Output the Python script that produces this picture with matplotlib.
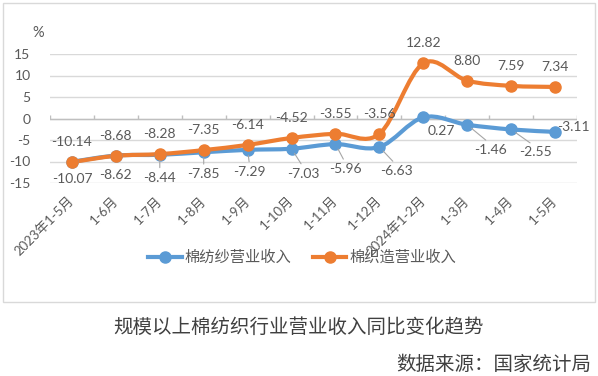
import numpy as np
import matplotlib
matplotlib.use("Agg")
import matplotlib.pyplot as plt
from matplotlib.path import Path
from matplotlib.patches import PathPatch, Rectangle
from matplotlib.lines import Line2D

plt.rcParams['font.family'] = ['Lato', 'Noto Sans CJK SC', 'DejaVu Sans']

categories = ["2023年1-5月", "1-6月", "1-7月", "1-8月", "1-9月", "1-10月", "1-11月",
              "1-12月", "2024年1-2月", "1-3月", "1-4月", "1-5月"]
yarn = [-10.07, -8.62, -8.44, -7.85, -7.29, -7.03, -5.96, -6.63, 0.27, -1.46, -2.55, -3.11]
weave = [-10.14, -8.68, -8.28, -7.35, -6.14, -4.52, -3.55, -3.56, 12.82, 8.80, 7.59, 7.34]
yarn_name = "棉纺纱营业收入"
weave_name = "棉织造营业收入"
yticks = [-15, -10, -5, 0, 5, 10, 15]
title = "规模以上棉纺织行业营业收入同比变化趋势"
source = "数据来源：国家统计局"

BLUE = "#5B9BD5"
ORANGE = "#ED7D31"
TXT = "#595959"

W, H = 598, 376
fig = plt.figure(figsize=(W / 100, H / 100), dpi=100)
ax = fig.add_axes([50 / W, 1 - 183 / H, 527 / W, 129 / H])

# outer chart frame
fig.patches.append(Rectangle((3 / W, 1 - 302 / H), 592 / W, 299 / H, transform=fig.transFigure,
                             fill=False, edgecolor="#D9D9D9", lw=1))

x = np.arange(len(categories))


def smooth_path(xs, ys):
    pts = list(zip(xs, ys))
    verts = [pts[0]]
    codes = [Path.MOVETO]
    n = len(pts)
    for i in range(n - 1):
        p0 = pts[i - 1] if i > 0 else pts[i]
        p1 = pts[i]
        p2 = pts[i + 1]
        p3 = pts[i + 2] if i + 2 < n else pts[i + 1]
        c1 = (p1[0] + (p2[0] - p0[0]) / 6, p1[1] + (p2[1] - p0[1]) / 6)
        c2 = (p2[0] - (p3[0] - p1[0]) / 6, p2[1] - (p3[1] - p1[1]) / 6)
        verts += [c1, c2, p2]
        codes += [Path.CURVE4] * 3
    return Path(verts, codes)


for ys, col in [(yarn, BLUE), (weave, ORANGE)]:
    ax.add_patch(PathPatch(smooth_path(x, ys), facecolor="none", edgecolor=col, lw=3,
                           capstyle="round", joinstyle="round", zorder=3))
    ax.plot(x, ys, linestyle="none", marker="o", ms=8, color=col, zorder=4)

ax.set_xlim(-0.5, len(categories) - 0.5)
ax.set_ylim(-15, 15)
ax.set_yticks(yticks)
ax.set_yticklabels([str(v) for v in yticks])
ax.grid(axis="y", color="#D9D9D9", lw=1)
ax.set_axisbelow(True)
for s in ax.spines.values():
    s.set_visible(False)
ax.axhline(0, color="#BFBFBF", lw=1, zorder=1)
ax.vlines(np.arange(len(categories) + 1) - 0.5, 0, 0.9, color="#BFBFBF", lw=1, zorder=1)

ax.tick_params(axis="y", length=0, pad=14, labelsize=10, labelcolor=TXT)
ax.set_xticks(x)
ax.set_xticklabels(categories, rotation=45, ha="right", va="center", rotation_mode="anchor")
ax.tick_params(axis="x", length=0, pad=11, labelsize=9.5, labelcolor=TXT)

ax.text(-0.022, 1.16, "%", transform=ax.transAxes, fontsize=10.5, color=TXT, ha="center", va="center")

# data labels: orange above
for xi, v in zip(x, weave):
    ax.annotate(f"{v:.2f}", (xi, v), xytext=(0, 20), textcoords="offset pixels",
                ha="center", va="center", fontsize=10, color=TXT, zorder=5)

# blue labels (offsets in pixels, leader flag)
yarn_off = [(0, -17, False), (0, -19, False), (0, -23, True), (0, -22, True), (2, -22, True),
            (12, -25, True), (10, -25, True), (17, -24, True), (18, -14, False),
            (23, -25, True), (24, -23, True), (18, 5, False)]
for xi, v, (dx, dy, lead) in zip(x, yarn, yarn_off):
    kw = {}
    if lead:
        kw["arrowprops"] = dict(arrowstyle="-", color="#A6A6A6", lw=0.8, shrinkA=1, shrinkB=4,
                                relpos=(0.5, 1.0))
    ax.annotate(f"{v:.2f}", (xi, v), xytext=(dx, dy), textcoords="offset pixels",
                ha="center", va="center", fontsize=10, color=TXT, zorder=5, **kw)

handles = [Line2D([], [], color=BLUE, lw=3, marker="o", ms=8),
           Line2D([], [], color=ORANGE, lw=3, marker="o", ms=8)]
fig.legend(handles, [yarn_name, weave_name], loc="center", bbox_to_anchor=(302 / W, 1 - 258 / H),
           ncol=2, frameon=False, fontsize=11, handlelength=2.2, handletextpad=0.2,
           columnspacing=1.4, labelcolor=TXT)

fig.text(299 / W, 1 - 327 / H, title, ha="center", va="center", fontsize=14, color="#404040",
         family=["Noto Sans CJK SC"], fontweight="light")
fig.text(591 / W, 1 - 364 / H, source, ha="right", va="center", fontsize=14, color="#404040",
         family=["Noto Sans CJK SC"], fontweight="light")

fig.savefig("out.png", dpi=100)
